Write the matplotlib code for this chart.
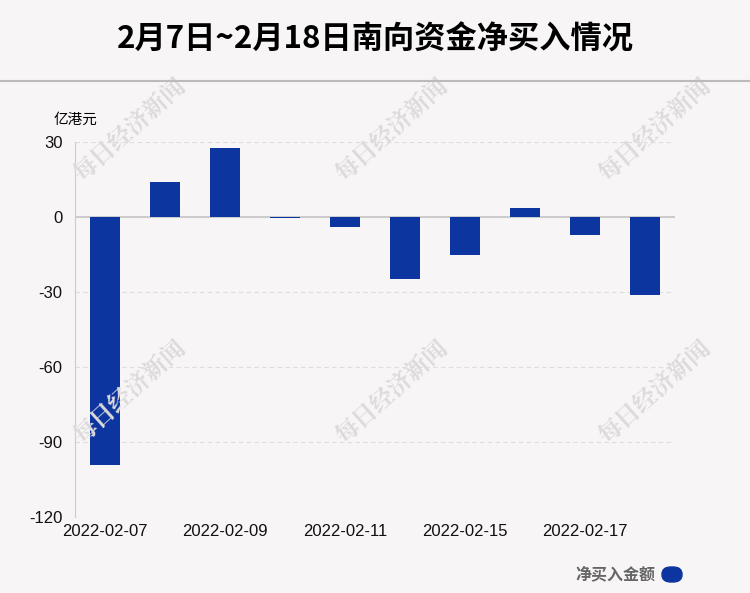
import matplotlib
matplotlib.use("Agg")
import matplotlib.pyplot as plt
from matplotlib.patches import FancyBboxPatch

plt.rcParams["font.family"] = ["Liberation Sans", "Noto Sans CJK SC", "DejaVu Sans"]

dates = ["2022-02-07", "2022-02-08", "2022-02-09", "2022-02-10", "2022-02-11",
         "2022-02-14", "2022-02-15", "2022-02-16", "2022-02-17", "2022-02-18"]
net_buy = [-99.3, 14.0, 27.3, -0.6, -4.0, -24.8, -15.3, 3.6, -7.2, -31.3]
yticks = [30, 0, -30, -60, -90, -120]

bg = "#f8f5f6"
blue = "#0d35a0"

fig = plt.figure(figsize=(7.5, 5.93), dpi=100, facecolor=bg)
ax = fig.add_axes([0.1, 0.128, 0.8, 0.633], facecolor=bg)

x = list(range(len(dates)))
ax.bar(x, net_buy, width=0.5, color=blue, zorder=3)

ax.set_xlim(-0.5, len(dates) - 0.5)
ax.set_ylim(-120, 30)
ax.set_yticks(yticks)
ax.set_yticklabels([str(v) for v in yticks], fontsize=12)
for v in yticks:
    if v != 0:
        ax.axhline(v, color="#dddddd", lw=0.8, ls=(0, (4, 3)), zorder=1)
ax.axhline(0, color="#cccccc", lw=1.5, zorder=2)

ax.set_xticks(x[::2])
ax.set_xticklabels(dates[::2], fontsize=12)
ax.tick_params(axis="both", length=0, colors="#111111")
ax.tick_params(axis="y", pad=9)
ax.tick_params(axis="x", pad=5)
for s in ["top", "right", "bottom"]:
    ax.spines[s].set_visible(False)
ax.spines["left"].set_color("#cccccc")

fig.text(0.5, 1 - 40 / 593, "2月7日~2月18日南向资金净买入情况", ha="center", va="center",
         fontsize=22.5, fontweight="bold", family=["Noto Sans CJK SC", "DejaVu Sans"])
fig.add_artist(plt.Line2D([0, 1], [1 - 81 / 593, 1 - 81 / 593], color="#bbbbbb", lw=1.5))
fig.text(54 / 750, 1 - 120 / 593, "亿港元", ha="left", va="center", fontsize=10.5,
         family=["Noto Sans CJK SC"])

# watermarks
for wx in [130, 392, 655]:
    for wy in [130, 392]:
        fig.text(wx / 750, 1 - wy / 593, "每日经济新闻", ha="center", va="center",
                 rotation=42, fontsize=17, color="#dcdadb", fontweight="bold",
                 family=["Noto Serif CJK SC", "Noto Sans CJK SC"], zorder=0)

# legend
fig.text(655 / 750, 1 - 574 / 593, "净买入金额", ha="right", va="center", fontsize=11.5,
         color="#666666", fontweight="bold", family=["Noto Sans CJK SC"])
fig.add_artist(FancyBboxPatch((662 / 750, 1 - 582 / 593), 20 / 750, 15 / 593,
                              boxstyle="round,pad=0,rounding_size=0.012",
                              transform=fig.transFigure, color=blue))

fig.savefig("out.png", dpi=100, facecolor=bg)
